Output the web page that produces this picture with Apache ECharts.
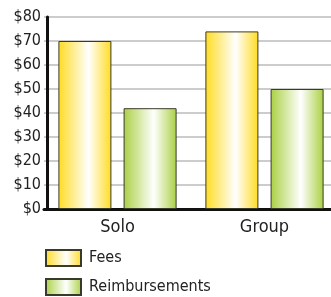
<!DOCTYPE html>
<html>
<head>
<meta charset="utf-8">
<script src="https://cdn.jsdelivr.net/npm/echarts@6/dist/echarts.min.js"></script>
<style>
html, body { margin: 0; padding: 0; background: #fff; overflow: hidden; }
#main { width: 345px; height: 297px; }
</style>
</head>
<body>
<div id="main"></div>
<script>
var categories = ['Solo', 'Group']
var fees = [70, 74]
var reimbursements = [42, 50]
var yTicks = [0, 10, 20, 30, 40, 50, 60, 70, 80]

var font = '"DejaVu Sans Condensed", sans-serif'

function grad (edge) {
  return new echarts.graphic.LinearGradient(0, 0, 1, 0, [
    { offset: 0, color: edge },
    { offset: 0.57, color: '#ffffff' },
    { offset: 1, color: edge }
  ])
}

var myChart = echarts.init(document.getElementById('main'))
myChart.setOption({
  backgroundColor: '#fff',
  animation: false,
  textStyle: { fontFamily: font },
  grid: { left: 44, width: 294, top: 17, height: 192 },
  legend: {
    orient: 'vertical',
    left: 45,
    top: 249,
    padding: 0,
    itemWidth: 35,
    itemHeight: 16,
    itemGap: 11,
    icon: 'rect',
    textStyle: { fontFamily: font, fontSize: 16, color: '#222', padding: [0, 0, 0, 3] },
    data: ['Fees', 'Reimbursements']
  },
  xAxis: {
    type: 'category',
    data: categories,
    axisLine: { lineStyle: { color: '#111', width: 3 } },
    axisTick: { show: false },
    axisLabel: { fontFamily: font, fontSize: 18, color: '#222', margin: 9 }
  },
  yAxis: {
    type: 'value',
    offset: -3,
    min: yTicks[0],
    max: yTicks[yTicks.length - 1],
    interval: 10,
    axisLine: { show: true, lineStyle: { color: '#111', width: 3 } },
    axisTick: { show: false },
    splitLine: { lineStyle: { color: '#bbb', width: 1.5 } },
    axisLabel: { fontFamily: font, fontSize: 16, color: '#222', margin: 6, formatter: '${value}' }
  },
  series: [
    {
      name: 'Fees',
      type: 'bar',
      data: fees,
      barWidth: 53,
      barGap: '23%',
      itemStyle: { color: grad('#ffdc22'), borderColor: '#3a3a2a', borderWidth: 1 }
    },
    {
      name: 'Reimbursements',
      type: 'bar',
      data: reimbursements,
      barWidth: 53,
      itemStyle: { color: grad('#aad044'), borderColor: '#3a3a2a', borderWidth: 1 }
    }
  ]
})
</script>
</body>
</html>
